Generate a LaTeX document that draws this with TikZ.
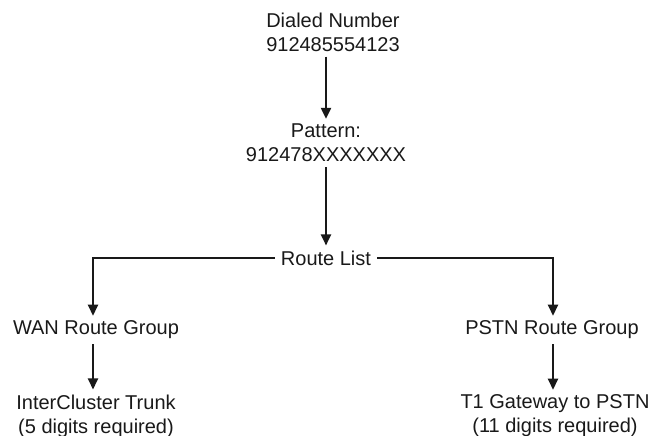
\documentclass[tikz,border=0pt]{standalone}
\usepackage{fontspec}
\setmainfont{Liberation Sans}
\usetikzlibrary{arrows.meta}
\begin{document}
\begin{tikzpicture}[x=1pt,y=-1pt,
  lbl/.style={inner xsep=2pt,inner ysep=5pt,align=center,font=\fontsize{20}{24}\selectfont,text=black!90},
  conn/.style={line width=2.2pt,draw=black!90,-{Triangle[length=11pt,width=10pt]}}]
\useasboundingbox (0,0) rectangle (654,436);
\node[lbl] (dialed) at (333,32) {Dialed Number\\912485554123};
\node[lbl] (pattern) at (326,143) {Pattern:\\912478XXXXXXX};
\node[lbl,inner xsep=6pt] (route) at (326,258) {Route List};
\node[lbl] (wan) at (96,330) {WAN Route Group};
\node[lbl] (pstn) at (552,330) {PSTN Route Group};
\node[lbl] (trunk) at (96,416) {InterCluster Trunk\\(5 digits required)};
\node[lbl] (t1) at (555,416) {T1 Gateway to PSTN\\(11 digits required)};
\draw[conn] (dialed.south -| pattern.north) -- (pattern.north);
\draw[conn] (pattern.south) -- (route.north);
\draw[conn] (route.west) -| ([xshift=-3pt]wan.north);
\draw[conn] (route.east) -| ([xshift=1pt]pstn.north);
\draw[conn] ([xshift=-3pt]wan.south) -- ([xshift=-3pt]trunk.north);
\draw[conn] ([xshift=1pt]pstn.south) -- ([xshift=1pt]pstn.south |- t1.north);
\end{tikzpicture}
\end{document}
